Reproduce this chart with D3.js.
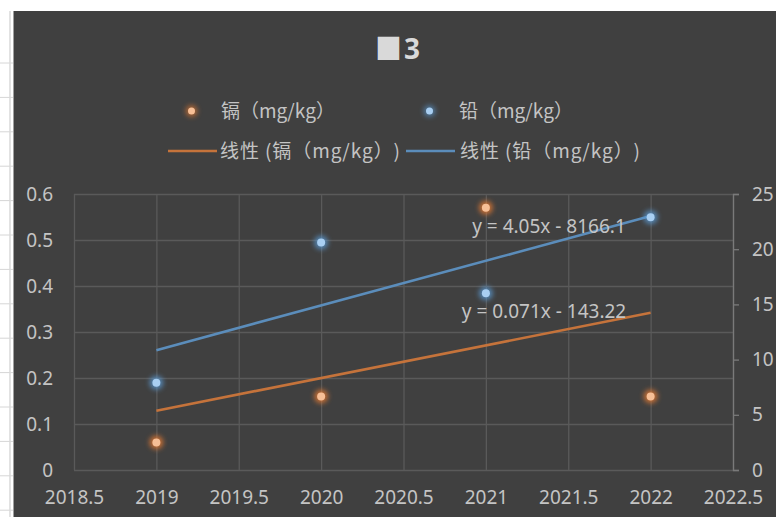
<!DOCTYPE html>
<html>
<head>
<meta charset="utf-8">
<script src="https://cdn.jsdelivr.net/npm/d3@7/dist/d3.min.js"></script>
<style>
  html, body { margin: 0; padding: 0; background: #ffffff; }
  svg { display: block; }
  .cjk { text-spacing-trim: space-all; font-kerning: none; }
</style>
</head>
<body>
<svg id="chart" width="776" height="517"></svg>
<script>
// Sampling years and measured concentrations
const years = [2019, 2020, 2021, 2022];
const cdValues = [0.06, 0.16, 0.57, 0.16];      // 镉 (mg/kg), left axis
const pbValues = [7.9, 20.6, 16.0, 22.9];       // 铅 (mg/kg), right axis

// Linear trend coefficients (cadmium, lead)
const trendSlopes = [0.071, 4.05];
const trendIntercepts = [-143.22, -8166.1];

// Axis ticks
const xTicks = [2018.5, 2019, 2019.5, 2020, 2020.5, 2021, 2021.5, 2022, 2022.5];
const leftTicks = [0, 0.1, 0.2, 0.3, 0.4, 0.5, 0.6];
const rightTicks = [0, 5, 10, 15, 20, 25];

// Legend labels
const seriesNames = ["镉（mg/kg）", "铅（mg/kg）"];
const trendNames = ["线性 (镉（mg/kg）)", "线性 (铅（mg/kg）)"];
const titleText = "3";

const svg = d3.select("#chart");
const W = 776, H = 517;
const plot = { left: 74, right: 733, top: 194, bottom: 470 };

const latin = "'Noto Sans', 'Noto Sans CJK SC', sans-serif";
const cjk = "'Noto Sans CJK SC', 'Noto Sans', sans-serif";
const textColor = "#c4c4c4";
const gridColor = "#5a5a5a";
const axisColor = "#7a7a7a";
const seriesColors = ["#ed7d31", "#5b9bd5"];
const pointFill = ["#f7bf96", "#a9cff2"];
const trendColors = ["#c5733b", "#5b8dbb"];

// Spreadsheet backdrop around the chart frame
svg.append("rect").attr("width", W).attr("height", H).attr("fill", "#ffffff");
const rowLines = d3.range(63, H, 34.4);
svg.append("g").selectAll("line").data(rowLines).join("line")
  .attr("x1", 0).attr("x2", 13).attr("y1", d => d).attr("y2", d => d)
  .attr("stroke", "#d6d6d6").attr("stroke-width", 1);
svg.append("line").attr("x1", 10).attr("x2", 10).attr("y1", 11).attr("y2", H)
  .attr("stroke", "#d9d9d9").attr("stroke-width", 1.5);

// Chart area
svg.append("rect").attr("x", 13.5).attr("y", 11).attr("width", W - 13.5).attr("height", H - 11)
  .attr("fill", "#404040");

const defs = svg.append("defs");
defs.append("filter").attr("id", "glow").attr("x", "-100%").attr("y", "-100%")
  .attr("width", "300%").attr("height", "300%")
  .append("feGaussianBlur").attr("stdDeviation", 2.4);

// Scales
const x = d3.scaleLinear().domain([2018.5, 2022.5]).range([plot.left, plot.right]);
const yL = d3.scaleLinear().domain([0, 0.6]).range([plot.bottom, plot.top]);
const yR = d3.scaleLinear().domain([0, 25]).range([plot.bottom, plot.top]);

// Gridlines
const gridX = svg.append("g").attr("transform", `translate(0,${plot.bottom})`)
  .call(d3.axisBottom(x).tickValues(xTicks).tickSize(-(plot.bottom - plot.top)).tickFormat(""));
const gridY = svg.append("g").attr("transform", `translate(${plot.left},0)`)
  .call(d3.axisLeft(yL).tickValues(leftTicks).tickSize(-(plot.right - plot.left)).tickFormat(""));
[gridX, gridY].forEach(g => {
  g.select(".domain").remove();
  g.selectAll(".tick line").attr("stroke", gridColor).attr("stroke-width", 1.3);
});

// Left axis labels
const axL = svg.append("g").attr("transform", `translate(${plot.left},0)`)
  .call(d3.axisLeft(yL).tickValues(leftTicks).tickSize(0).tickPadding(21).tickFormat(d => String(d)));
axL.select(".domain").remove();

// Right axis with outward ticks
const axR = svg.append("g").attr("transform", `translate(${plot.right},0)`)
  .call(d3.axisRight(yR).tickValues(rightTicks).tickSizeInner(6).tickSizeOuter(6).tickPadding(13));
axR.select(".domain").attr("stroke", axisColor).attr("stroke-width", 1.3);
axR.selectAll(".tick line").attr("stroke", axisColor).attr("stroke-width", 1.3);

// Bottom axis labels
const axB = svg.append("g").attr("transform", `translate(0,${plot.bottom})`)
  .call(d3.axisBottom(x).tickValues(xTicks).tickSize(0).tickPadding(21).tickFormat(d => String(d)));
axB.select(".domain").remove();

[axL, axR, axB].forEach(g => {
  g.selectAll("text").attr("fill", textColor).style("font-family", latin).style("font-size", "19px");
});

// Trend lines
const yScales = [yL, yR];
const line = d3.line();
trendSlopes.forEach((m, i) => {
  const x0 = d3.min(years), x1 = d3.max(years);
  const pts = [x0, x1].map(t => [x(t), yScales[i](m * t + trendIntercepts[i])]);
  svg.append("path").attr("d", line(pts)).attr("fill", "none")
    .attr("stroke", trendColors[i]).attr("stroke-width", 2.6);
});

// Points with soft halo
function drawPoints(values, yScale, i) {
  const g = svg.append("g");
  g.selectAll("circle.halo").data(values).join("circle").attr("class", "halo")
    .attr("cx", (d, k) => x(years[k])).attr("cy", d => yScale(d)).attr("r", 7)
    .attr("fill", seriesColors[i]).attr("opacity", 0.75).attr("filter", "url(#glow)");
  g.selectAll("circle.dot").data(values).join("circle").attr("class", "dot")
    .attr("cx", (d, k) => x(years[k])).attr("cy", d => yScale(d)).attr("r", 4)
    .attr("fill", pointFill[i]);
}
drawPoints(cdValues, yL, 0);
drawPoints(pbValues, yR, 1);

// Trend equations
const fmtEq = (m, b) => `y = ${m}x ${b < 0 ? "-" : "+"} ${Math.abs(b)}`;
const eqPos = [[544, 318], [549, 233]];
trendSlopes.forEach((m, i) => {
  svg.append("text").attr("x", eqPos[i][0]).attr("y", eqPos[i][1])
    .attr("text-anchor", "middle").attr("fill", textColor)
    .style("font-family", latin).style("font-size", "19px")
    .text(fmtEq(m, trendIntercepts[i]));
});

// Title: missing-glyph box followed by the figure number
const box = svg.append("text").attr("fill", "#d9d9d9")
  .style("font-family", "'DejaVu Sans'").style("font-size", "26px")
  .text("\u2588");
const bb = box.node().getBBox();
const boxW = 23, boxH = 24;
box.attr("transform",
  `translate(377,36) scale(${boxW / bb.width},${boxH / bb.height}) translate(${-bb.x},${-bb.y})`);
svg.append("text").attr("x", 404).attr("y", 59).attr("fill", "#d9d9d9")
  .style("font-family", latin).style("font-size", "28px").style("font-weight", "bold")
  .text(titleText);

// Legend
const legend = svg.append("g");
const markerX = [191.5, 429.5], markerText = [221, 459];
seriesNames.forEach((name, i) => {
  legend.append("circle").attr("cx", markerX[i]).attr("cy", 111).attr("r", 6)
    .attr("fill", seriesColors[i]).attr("opacity", 0.6).attr("filter", "url(#glow)");
  legend.append("circle").attr("cx", markerX[i]).attr("cy", 111).attr("r", 3.5)
    .attr("fill", pointFill[i]);
  legend.append("text").attr("class", "cjk").attr("x", markerText[i]).attr("y", 118)
    .attr("fill", textColor).style("font-family", cjk).style("font-size", "19px").text(name);
});
const lineX = [[168, 217], [406, 455]], lineText = [220, 460];
trendNames.forEach((name, i) => {
  legend.append("line").attr("x1", lineX[i][0]).attr("x2", lineX[i][1])
    .attr("y1", 151).attr("y2", 151).attr("stroke", trendColors[i]).attr("stroke-width", 2.6);
  legend.append("text").attr("class", "cjk").attr("x", lineText[i]).attr("y", 158)
    .attr("fill", textColor).style("font-family", cjk).style("font-size", "19px")
    .attr("textLength", 180).attr("lengthAdjust", "spacing").text(name);
});
</script>
</body>
</html>
